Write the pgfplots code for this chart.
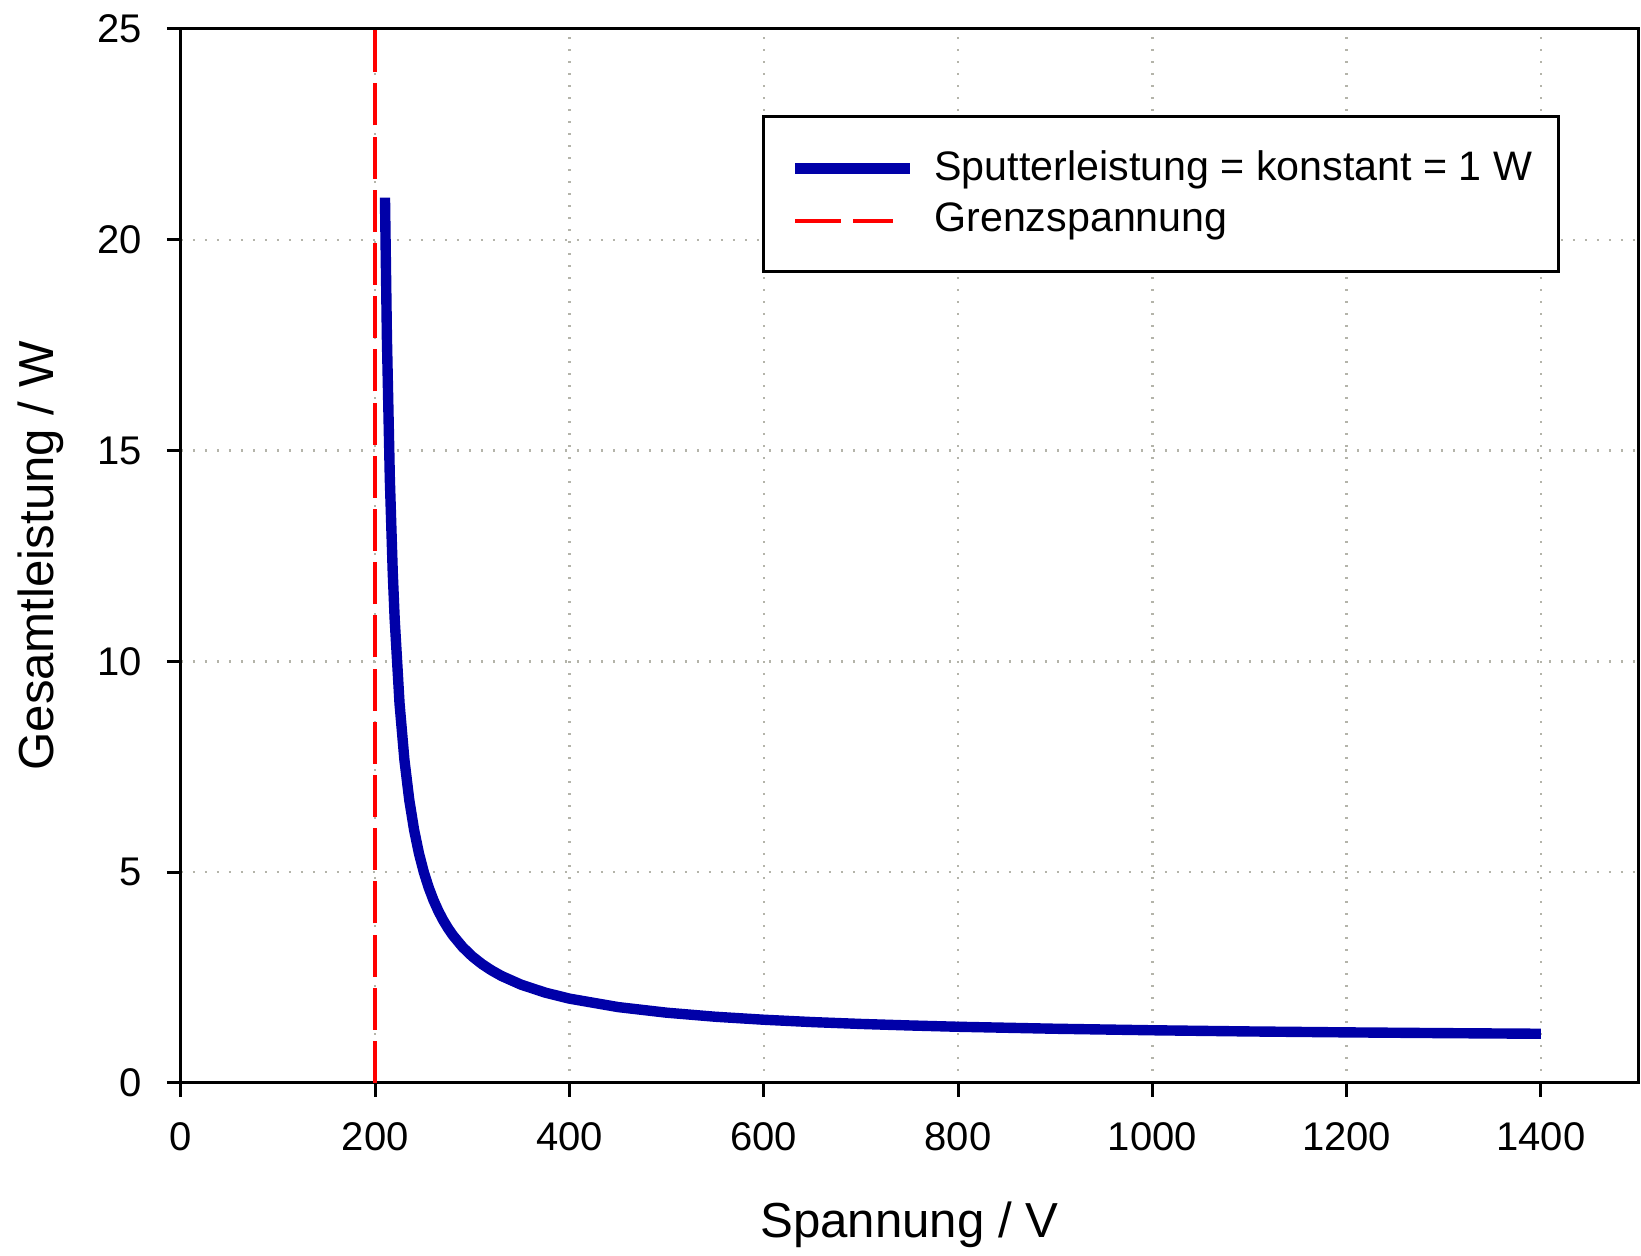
\documentclass[border=0pt]{standalone}
\usepackage{pgfplots}
\pgfplotsset{compat=1.18}
\usepackage{fontspec}
\setmainfont{Liberation Sans}
\definecolor{curveblue}{RGB}{0,0,168}
\definecolor{gridgray}{RGB}{180,180,170}
\pgfplotsset{redlegend/.style={legend image code/.code={\draw[##1, dash pattern=on 11.5pt off 3pt] (0pt,0pt) -- (24.3pt,0pt);}}}
\begin{document}
\begin{tikzpicture}
\begin{axis}[
  scale only axis,
  width=364.25pt, height=263.5pt,
  xmin=0, xmax=1500, ymin=0, ymax=25,
  xtick={0,200,...,1400}, ytick={0,5,...,25},
  xtick pos=bottom, ytick pos=left,
  tick align=outside,
  major tick length=3.5pt,
  every tick/.style={black, line width=0.75pt},
  axis line style={line width=0.75pt},
  /pgf/number format/assume math mode=true,
  /pgf/number format/1000 sep={},
  tick label style={font=\fontsize{10}{12}\selectfont},
  yticklabel style={inner sep=0pt, xshift=-6pt},
  xticklabel style={inner sep=0pt, yshift=-6.25pt},
  xmajorgrids, ymajorgrids,
  major grid style={color=gridgray, line width=0.6pt, dash pattern=on 0.6pt off 2.4pt},
  xlabel={Spannung / V},
  ylabel={Gesamtleistung / W},
  every axis x label/.style={at={(axis description cs:0.5,-0.1347)}, anchor=center, font=\fontsize{12.3}{14}\selectfont},
  every axis y label/.style={at={(axis description cs:-0.0961,0.5)}, rotate=90, anchor=center, font=\fontsize{12.3}{14}\selectfont},
  legend cell align=left,
  legend image code/.code={\draw[#1] (0pt,0pt) -- (28.75pt,0pt);},
  legend style={at={(axis description cs:0.9465,0.9184)}, anchor=north east,
    draw=black, line width=0.75pt, fill=white,
    font=\fontsize{10.3}{12.4}\selectfont,
    inner xsep=6.6pt, inner ysep=8.5pt, row sep=4.2pt, column sep=4.7pt,
    nodes={inner sep=0pt}},
]
\addplot[curveblue, line width=2.6pt, line join=round] coordinates {
(210,21.0) (212,17.667) (215,14.333) (218,12.111) (220,11.0) (225,9.0)
(230,7.667) (235,6.714) (240,6.0) (245,5.444) (250,5.0) (255,4.636)
(260,4.333) (265,4.077) (270,3.857) (275,3.667) (280,3.5) (290,3.222)
(300,3.0) (310,2.818) (320,2.667) (330,2.538) (350,2.333) (375,2.143)
(400,2.0) (450,1.8) (500,1.667) (550,1.571) (600,1.5) (650,1.444)
(700,1.4) (750,1.364) (800,1.333) (900,1.286) (1000,1.25) (1100,1.222)
(1200,1.2) (1300,1.182) (1400,1.167)
};
\addlegendentry{Sputterleistung = konstant = 1 W}
\addplot[red, line width=1pt, dash pattern=on 10.5pt off 2.8pt, redlegend] coordinates {(200,0) (200,25)};
\addlegendentry{Grenzspannung}
\end{axis}
\pgfresetboundingbox
\path[use as bounding box] ([shift={(-45.25pt,-43.25pt)}]current axis.south west) rectangle ([shift={(0.75pt,7.25pt)}]current axis.north east);
\end{tikzpicture}
\end{document}
